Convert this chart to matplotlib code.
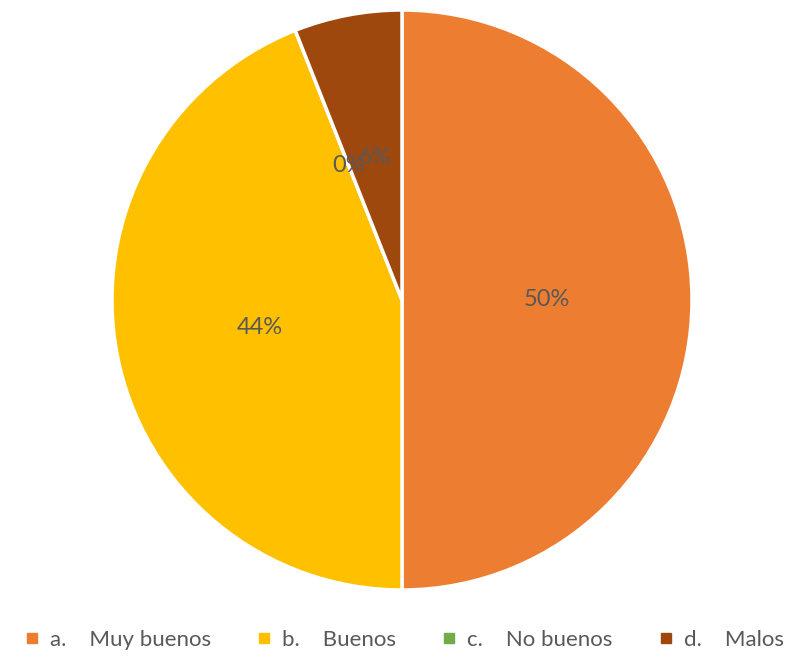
import matplotlib.pyplot as plt
from matplotlib.lines import Line2D

plt.rcParams['font.family'] = ['Lato', 'DejaVu Sans']

categorias = ['a.    Muy buenos', 'b.    Buenos', 'c.    No buenos', 'd.    Malos']
porcentajes = [50, 44, 0, 6]
colores = ['#ED7D31', '#FFC000', '#70AD47', '#9E480E']

fig = plt.figure(figsize=(8.07, 6.59), dpi=100)
ax = fig.add_axes([112/807, 69/659, 580/807, 580/659])

wedges, textos, autotextos = ax.pie(
    porcentajes, colors=colores, startangle=90, counterclock=False,
    autopct=lambda p: f'{p:.0f}%', pctdistance=0.5,
    wedgeprops=dict(edgecolor='white', linewidth=2.5),
    textprops=dict(color='#595959', fontsize=17))
ax.set_xlim(-1, 1)
ax.set_ylim(-1, 1)
ax.set_aspect('equal')

# marcadores cuadrados para la leyenda
handles = [Line2D([], [], marker='s', linestyle='none', markersize=7,
                  markerfacecolor=c, markeredgecolor=c) for c in colores]
fig.legend(handles, categorias, loc='center', bbox_to_anchor=(0.5, 19/659),
           ncol=4, frameon=False, fontsize=16, labelcolor='#595959',
           handletextpad=0.4, columnspacing=2.0, handlelength=0.8)

fig.savefig('out.png', dpi=100)
